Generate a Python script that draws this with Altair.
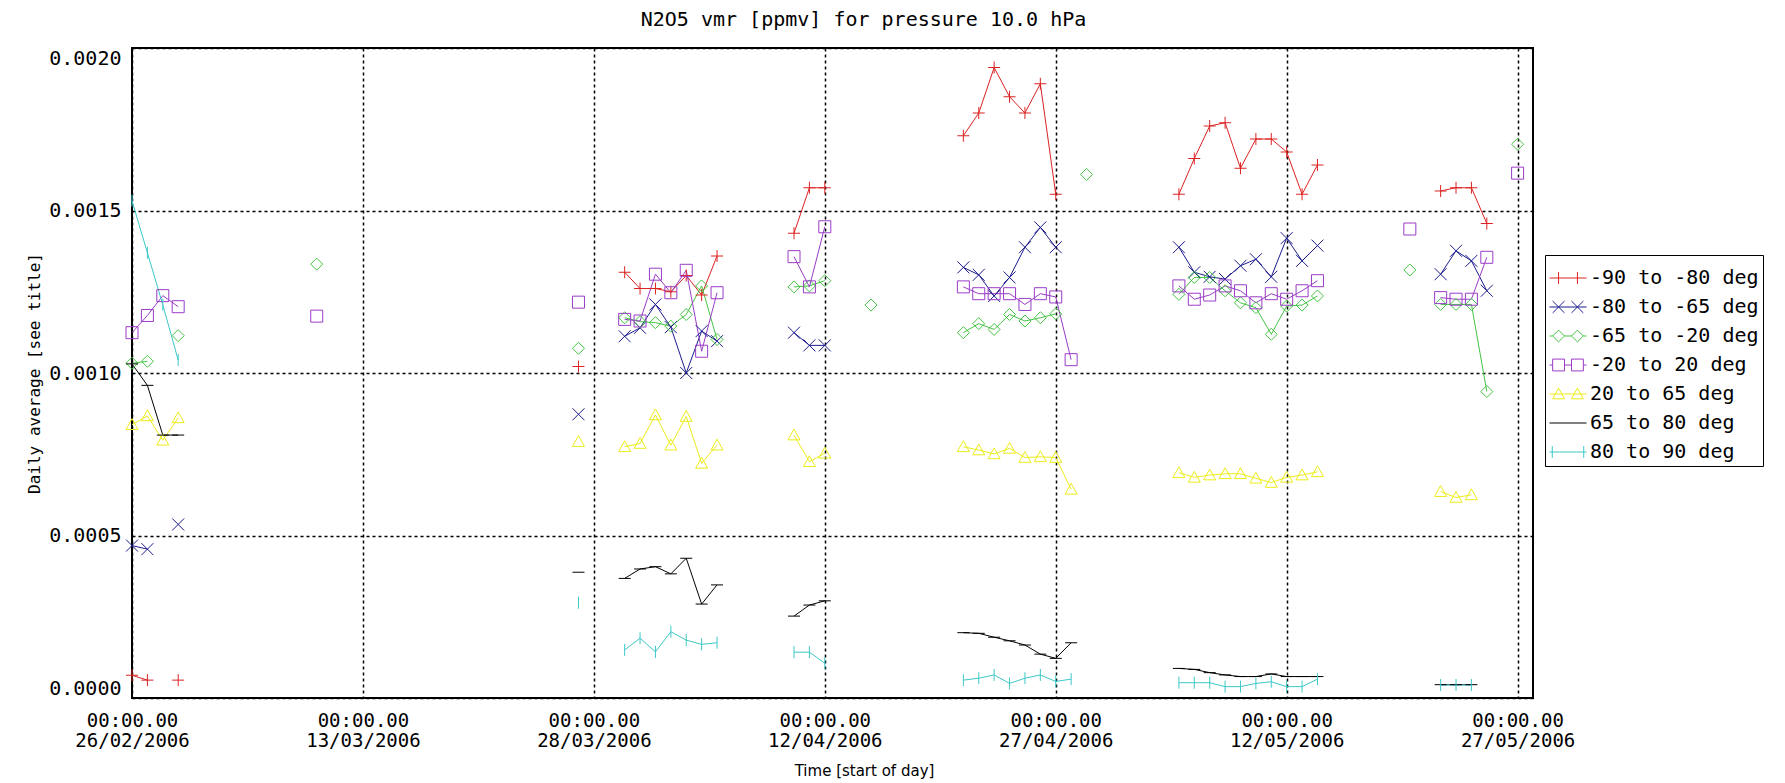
import altair as alt
import pandas as pd

TITLE = "N2O5 vmr [ppmv] for pressure 10.0 hPa"
X_TITLE = "Time [start of day]"
Y_TITLE = "Daily average [see title]"

SERIES = ["-90 to -80 deg", "-80 to -65 deg", "-65 to -20 deg", "-20 to 20 deg",
          "20 to 65 deg", "65 to 80 deg", "80 to 90 deg"]
COLORS = ["#dc2222", "#1c1c8c", "#44c444", "#9a3cc8", "#ecec1a", "#000000", "#3cc8c8"]

# plot markers (unit paths)
MARKERS = [
    "M-1,0L1,0M0,-1L0,1",
    "M-1,-1L1,1M-1,1L1,-1",
    "M0,-1L1,0L0,1L-1,0Z",
    "M-1,-1L1,-1L1,1L-1,1Z",
    "M0,-1L1,0.8L-1,0.8Z",
    "M-1,0L1,0",
    "M0,-1L0,1",
]
# legend symbols: a line with two markers
LEGEND_SYMBOLS = [
    "M-1,0L1,0M-0.51,-0.32L-0.51,0.32M0.51,-0.32L0.51,0.32",
    "M-1,0L1,0M-0.83,-0.32L-0.19,0.32M-0.83,0.32L-0.19,-0.32M0.19,-0.32L0.83,0.32M0.19,0.32L0.83,-0.32",
    "M-1,0L-0.83,0M-0.19,0L0.19,0M0.83,0L1,0M-0.51,-0.32L-0.19,0L-0.51,0.32L-0.83,0ZM0.51,-0.32L0.83,0L0.51,0.32L0.19,0Z",
    "M-1,0L-0.83,0M-0.19,0L0.19,0M0.83,0L1,0M-0.83,-0.32L-0.19,-0.32L-0.19,0.32L-0.83,0.32ZM0.19,-0.32L0.83,-0.32L0.83,0.32L0.19,0.32Z",
    "M-1,0L1,0M-0.51,-0.32L-0.19,0.26L-0.83,0.26ZM0.51,-0.32L0.83,0.26L0.19,0.26Z",
    "M-1,0L1,0",
    "M-1,0L1,0M-0.85,-0.32L-0.85,0.32M0.85,-0.32L0.85,0.32",
]

TICK_DATES = ["2006-02-26", "2006-03-13", "2006-03-28", "2006-04-12",
              "2006-04-27", "2006-05-12", "2006-05-27"]
Y_TICKS = [0.0, 0.0005, 0.0010, 0.0015, 0.0020]

# each series: list of (first day, consecutive daily values)
RED = [
    ("2006-02-26", [0.000070, 0.000055]),
    ("2006-03-01", [0.000055]),
    ("2006-03-27", [0.00102]),
    ("2006-03-30", [0.00131, 0.00126, 0.00126, 0.00125, 0.00130, 0.00124, 0.00136]),
    ("2006-04-10", [0.00143, 0.00157, 0.00157]),
    ("2006-04-21", [0.00173, 0.00180, 0.00194, 0.00185, 0.00180, 0.00189, 0.00155]),
    ("2006-05-05", [0.00155, 0.00166, 0.00176, 0.00177, 0.00163, 0.00172, 0.00172,
                    0.00168, 0.00155, 0.00164]),
    ("2006-05-22", [0.00156, 0.00157, 0.00157, 0.00146]),
]
BLUE = [
    ("2006-02-26", [0.000469, 0.000458]),
    ("2006-03-01", [0.000534]),
    ("2006-03-27", [0.000873]),
    ("2006-03-30", [0.001113, 0.001139, 0.001211, 0.001141, 0.001000, 0.001129, 0.001098]),
    ("2006-04-10", [0.001124, 0.001085, 0.001085]),
    ("2006-04-21", [0.001325, 0.001302, 0.001237, 0.001294, 0.001387, 0.001448, 0.001387]),
    ("2006-05-05", [0.001387, 0.001310, 0.001296, 0.001289, 0.001330, 0.001350, 0.001296,
                    0.001415, 0.001345, 0.001392]),
    ("2006-05-22", [0.001304, 0.001376, 0.001345, 0.001253]),
]
GREEN = [
    ("2006-02-26", [0.001030, 0.001036]),
    ("2006-03-01", [0.001115]),
    ("2006-03-10", [0.001335]),
    ("2006-03-27", [0.001076]),
    ("2006-03-30", [0.001170, 0.001158, 0.001155, 0.001144, 0.001180, 0.001268, 0.001103]),
    ("2006-04-10", [0.001265, 0.001268, 0.001284]),
    ("2006-04-15", [0.001209]),
    ("2006-04-21", [0.001124, 0.001152, 0.001134, 0.001180, 0.001160, 0.001170, 0.001182]),
    ("2006-04-29", [0.001611]),
    ("2006-05-05", [0.001242, 0.001294, 0.001294, 0.001253, 0.001216, 0.001201, 0.001119,
                    0.001206, 0.001209, 0.001237]),
    ("2006-05-20", [0.001317]),
    ("2006-05-22", [0.001211, 0.001211, 0.001211, 0.000943]),
    ("2006-05-27", [0.001704]),
]
PURPLE = [
    ("2006-02-26", [0.001124, 0.001177, 0.001238, 0.001204]),
    ("2006-03-10", [0.001175]),
    ("2006-03-27", [0.001218]),
    ("2006-03-30", [0.001165, 0.001160, 0.001304, 0.001247, 0.001316, 0.001067, 0.001247]),
    ("2006-04-10", [0.001358, 0.001265, 0.001450]),
    ("2006-04-21", [0.001265, 0.001244, 0.001244, 0.001244, 0.001211, 0.001244, 0.001234,
                    0.001041]),
    ("2006-05-05", [0.001268, 0.001227, 0.001240, 0.001268, 0.001253, 0.001216, 0.001244,
                    0.001227, 0.001253, 0.001284]),
    ("2006-05-20", [0.001443]),
    ("2006-05-22", [0.001232, 0.001227, 0.001227, 0.001356]),
    ("2006-05-27", [0.001615]),
]
YELLOW = [
    ("2006-02-26", [0.000841, 0.000868, 0.000793, 0.000862]),
    ("2006-03-27", [0.000789]),
    ("2006-03-30", [0.000773, 0.000783, 0.000871, 0.000778, 0.000866, 0.000722, 0.000778]),
    ("2006-04-10", [0.000809, 0.000727, 0.000753]),
    ("2006-04-21", [0.000773, 0.000763, 0.000751, 0.000768, 0.000740, 0.000742, 0.000740,
                    0.000642]),
    ("2006-05-05", [0.000693, 0.000679, 0.000686, 0.000690, 0.000690, 0.000676, 0.000663,
                    0.000679, 0.000686, 0.000696]),
    ("2006-05-22", [0.000635, 0.000617, 0.000625]),
]
BLACK = [
    ("2006-02-26", [0.001028, 0.000962, 0.000809, 0.000809]),
    ("2006-03-27", [0.000387]),
    ("2006-03-30", [0.000368, 0.000397, 0.000404, 0.000382, 0.000430, 0.000289, 0.000348]),
    ("2006-04-10", [0.000252, 0.000286, 0.000299]),
    ("2006-04-21", [0.000201, 0.000199, 0.000187, 0.000176, 0.000163, 0.000135, 0.000122,
                    0.000170]),
    ("2006-05-05", [0.000091, 0.000088, 0.000078, 0.000071, 0.000066, 0.000066, 0.000074,
                    0.000066, 0.000066, 0.000066]),
    ("2006-05-22", [0.000041, 0.000041, 0.000041]),
]
CYAN = [
    ("2006-02-26", [0.00153, 0.00137, 0.00121, 0.00104]),
    ("2006-03-27", [0.000293]),
    ("2006-03-30", [0.000148, 0.000184, 0.000142, 0.000204, 0.000178, 0.000165, 0.000170]),
    ("2006-04-10", [0.000141, 0.000141, 0.000107]),
    ("2006-04-21", [0.000055, 0.000061, 0.000071, 0.000045, 0.000061, 0.000071, 0.000051,
                    0.000058]),
    ("2006-05-05", [0.000047, 0.000047, 0.000047, 0.000035, 0.000035, 0.000045, 0.000050,
                    0.000035, 0.000035, 0.000058]),
    ("2006-05-22", [0.000040, 0.000040, 0.000040]),
]
SEGMENTS = [RED, BLUE, GREEN, PURPLE, YELLOW, BLACK, CYAN]

rows = []
for name, color, marker, segs in zip(SERIES, COLORS, MARKERS, SEGMENTS):
    for k, (start, vals) in enumerate(segs):
        d0 = pd.Timestamp(start)
        for i, v in enumerate(vals):
            rows.append({
                "series": name,
                "seg": f"{name}#{k}",
                "date": (d0 + pd.Timedelta(days=i)).strftime("%Y-%m-%d"),
                "value": v,
                "color": color,
                "marker": marker,
            })
df = pd.DataFrame(rows)


def dt(s):
    return alt.DateTime(year=int(s[:4]), month=int(s[5:7]), date=int(s[8:10]), utc=True)


FONT = "DejaVu Sans Mono"
SANS = "DejaVu Sans"

x_enc = alt.X(
    "date:T",
    scale=alt.Scale(type="utc", domain=[dt("2006-02-26"), dt("2006-05-28")]),
    axis=alt.Axis(
        values=[dt(s) for s in TICK_DATES],
        labelExpr="['00:00.00', utcFormat(datum.value, '%d/%m/%Y')]",
        labelFontSize=19, labelLineHeight=20, labelPadding=13,
        labelBaseline="top", labelAlign="center",
        title=X_TITLE, titleFont=SANS, titleFontSize=15, titleX=732, titleY=72,
        titleAlign="center", titleBaseline="middle",
    ),
)
y_enc = alt.Y(
    "value:Q",
    scale=alt.Scale(domain=[0, 0.002], nice=False, zero=False),
    axis=alt.Axis(
        values=Y_TICKS, format=".4f", labelFlush=True, labelFontSize=20, labelPadding=11,
        title=Y_TITLE, titleFontSize=16, titleX=-98, titleY=325, titleAngle=-90,
        titleAlign="center", titleBaseline="middle",
    ),
)

lines = alt.Chart(df).mark_line(strokeWidth=1).encode(
    x=x_enc, y=y_enc,
    color=alt.Color("color:N", scale=None),
    detail="seg:N",
)
points = alt.Chart(df).mark_point(filled=False, size=144, strokeWidth=1, opacity=1).encode(
    x=x_enc, y=y_enc,
    color=alt.Color("color:N", scale=None),
    shape=alt.Shape("marker:N", scale=None),
)

leg = alt.Legend(
    title=None, orient="none", legendX=1413, legendY=207,
    symbolSize=1369, symbolStrokeWidth=1, symbolOpacity=1,
    labelFontSize=20, labelFont=FONT, labelOffset=3, labelLimit=400, rowPadding=-7,
    padding=4, strokeColor="black", fillColor="white",
)
legend_layer = alt.Chart(pd.DataFrame({"series": SERIES})).mark_point(
    filled=False, strokeWidth=1, opacity=1
).encode(
    color=alt.Color("series:N", scale=alt.Scale(domain=SERIES, range=COLORS), legend=leg),
    shape=alt.Shape("series:N", scale=alt.Scale(domain=SERIES, range=LEGEND_SYMBOLS), legend=leg),
).transform_filter("false")

chart = alt.layer(lines, points, legend_layer).resolve_scale(
    color="independent", shape="independent"
).properties(
    width=1401, height=650,
    padding={"left": 124, "top": 40, "right": 236, "bottom": 82},
    autosize=alt.AutoSizeParams(type="none"),
    title=alt.TitleParams(TITLE, fontSize=20, font=FONT, fontWeight="normal",
                          anchor="middle", dx=31, offset=18, color="black"),
).configure(
    font=FONT,
).configure_view(
    stroke="black", strokeWidth=2,
).configure_axis(
    domain=False, ticks=False, grid=True, gridColor="black", gridDash=[3, 3],
    gridWidth=1.5, gridOpacity=1, labelColor="black", titleColor="black",
    labelFont=FONT, titleFont=FONT, titleFontWeight="normal",
).configure_legend(
    labelFont=FONT, labelColor="black",
)

chart.save("out.html", embed_options={"renderer": "svg", "actions": False})
